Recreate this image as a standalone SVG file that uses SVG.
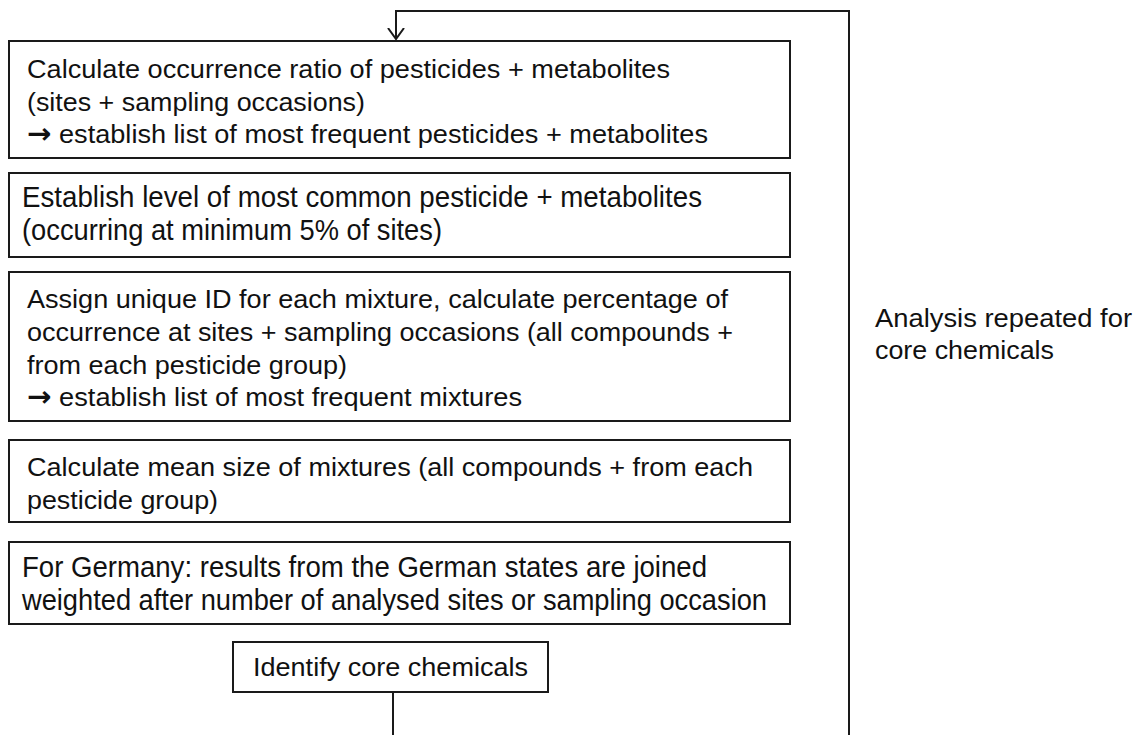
<svg xmlns="http://www.w3.org/2000/svg" width="1143" height="735" viewBox="0 0 1143 735">
<style>
.box{fill:#fff;stroke:#1a1a1a;stroke-width:2}
.t{font-family:"Liberation Sans",Arial,sans-serif;font-size:26px;fill:#111}
.n{font-family:"Liberation Sans",Arial,sans-serif;font-size:29px;fill:#111}
.a{font-family:"DejaVu Sans",sans-serif;font-size:28px;font-weight:bold}
.c{fill:none;stroke:#1a1a1a;stroke-width:2}
</style>
<defs>
<marker id="arr" markerWidth="22" markerHeight="22" refX="11" refY="11" orient="auto" markerUnits="userSpaceOnUse">
<path d="M0,3 L11,11 L0,19" fill="none" stroke="#1a1a1a" stroke-width="2"/>
</marker>
</defs>
<rect width="1143" height="735" fill="#fff"/>
<g id="connectors">
<path class="c" d="M849,735 V11 H396 V39" marker-end="url(#arr)"/>
<path class="c" d="M393,692 V735"/>
</g>
<g id="box1">
<rect class="box" x="9" y="41" width="781" height="117"/>
<text class="t" x="27" y="78" textLength="643" lengthAdjust="spacingAndGlyphs">Calculate occurrence ratio of pesticides + metabolites</text>
<text class="t" x="27" y="111" textLength="338" lengthAdjust="spacingAndGlyphs">(sites + sampling occasions)</text>
<text class="t" x="27" y="143" textLength="681" lengthAdjust="spacingAndGlyphs"><tspan class="a">→</tspan> establish list of most frequent pesticides + metabolites</text>
</g>
<g id="box2">
<rect class="box" x="9" y="173" width="781" height="84"/>
<text class="n" x="22" y="207" textLength="680" lengthAdjust="spacingAndGlyphs">Establish level of most common pesticide + metabolites</text>
<text class="n" x="22" y="240" textLength="420" lengthAdjust="spacingAndGlyphs">(occurring at minimum 5% of sites)</text>
</g>
<g id="box3">
<rect class="box" x="9" y="272" width="781" height="149"/>
<text class="t" x="27" y="308" textLength="701" lengthAdjust="spacingAndGlyphs">Assign unique ID for each mixture, calculate percentage of</text>
<text class="t" x="27" y="341" textLength="706" lengthAdjust="spacingAndGlyphs">occurrence at sites + sampling occasions (all compounds +</text>
<text class="t" x="27" y="374" textLength="320" lengthAdjust="spacingAndGlyphs">from each pesticide group)</text>
<text class="t" x="27" y="406" textLength="495" lengthAdjust="spacingAndGlyphs"><tspan class="a">→</tspan> establish list of most frequent mixtures</text>
</g>
<g id="box4">
<rect class="box" x="9" y="440" width="781" height="82"/>
<text class="t" x="27" y="476" textLength="726" lengthAdjust="spacingAndGlyphs">Calculate mean size of mixtures (all compounds + from each</text>
<text class="t" x="27" y="509" textLength="191" lengthAdjust="spacingAndGlyphs">pesticide group)</text>
</g>
<g id="box5">
<rect class="box" x="9" y="542" width="781" height="82"/>
<text class="n" x="22" y="577" textLength="685" lengthAdjust="spacingAndGlyphs">For Germany: results from the German states are joined</text>
<text class="n" x="22" y="610" textLength="745" lengthAdjust="spacingAndGlyphs">weighted after number of analysed sites or sampling occasion</text>
</g>
<g id="core">
<rect class="box" x="233" y="642" width="315" height="50"/>
<text class="t" x="253" y="676" textLength="275" lengthAdjust="spacingAndGlyphs">Identify core chemicals</text>
</g>
<g id="label">
<text class="t" x="875" y="327" textLength="257" lengthAdjust="spacingAndGlyphs">Analysis repeated for</text>
<text class="t" x="875" y="359" textLength="179" lengthAdjust="spacingAndGlyphs">core chemicals</text>
</g>
</svg>
